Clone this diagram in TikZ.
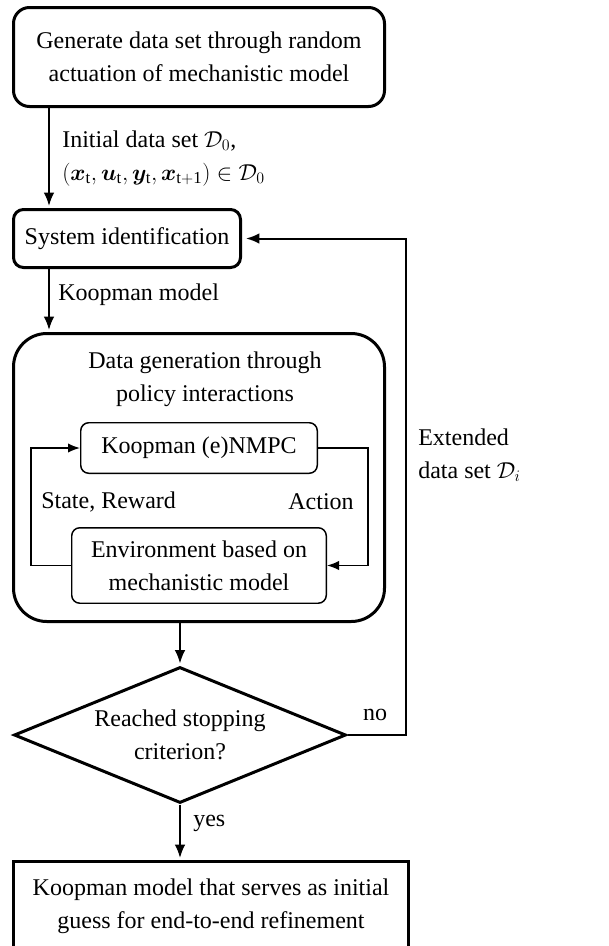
\documentclass[tikz,border=0pt]{standalone}
\usepackage{bm}
\usepackage{fontspec}
\setmainfont{Liberation Serif}
\usetikzlibrary{shapes.geometric,arrows.meta}

\begin{document}
\begin{tikzpicture}[x=0.75pt,y=-0.75pt,
  every node/.style={font=\fontsize{18pt}{24.75pt}\selectfont},
  mainbox/.style={draw, line width=2.25pt, rounded corners=12pt, align=center, inner sep=0pt},
  innerbox/.style={draw, line width=1.1pt, rounded corners=6pt, align=center, inner sep=0pt},
  decision/.style={draw, diamond, aspect=2.4, line width=2.25pt, align=center, inner sep=0pt},
  lbl/.style={inner sep=0pt, align=left},
  flow/.style={line width=1.5pt, -{Latex[length=10pt,width=8pt]}, shorten >=1.5pt},
  loop/.style={line width=1.1pt, -{Latex[length=9pt,width=7pt]}},
]
\useasboundingbox (0,0) rectangle (609,946);

% main column of the flowchart
\node[mainbox, minimum width=278.25pt, minimum height=74.25pt] (gen) at (199,57)
  {Generate data set through random\\actuation of mechanistic model};
\node[mainbox, rounded corners=7.5pt, minimum width=170.25pt, minimum height=43.5pt] (sysid) at (127,238.5)
  {System identification};
\node[mainbox, rounded corners=25pt, minimum width=278.25pt, minimum height=216pt] (datagen) at (199,477.5) {};
\node[align=center, inner sep=0pt] (dgtitle) at (205,379)
  {Data generation through\\policy interactions};
\node[innerbox, minimum width=177.4pt, minimum height=37.9pt] (mpc) at (199,448)
  {Koopman (e)NMPC};
\node[innerbox, minimum width=190.9pt, minimum height=56.6pt] (env) at (199,565.5)
  {Environment based on\\mechanistic model};
\node[decision, minimum width=249pt, minimum height=102pt] (stop) at (180,735)
  {Reached stopping\\criterion?};
\node[draw, line width=2.25pt, align=center, inner sep=0pt, minimum width=296.25pt, minimum height=67.5pt] (final) at (211,906.5)
  {Koopman model that serves as initial\\guess for end-to-end refinement};

% columns used by the connectors
\coordinate (colA) at (49,0);
\coordinate (colL) at (31,0);
\coordinate (colR) at (368,0);
\coordinate (colF) at (406,0);

% forward flow
\draw[flow] (gen.south -| colA) -- (sysid.north -| colA);
\draw[flow] (sysid.south -| colA) -- (datagen.north -| colA);
\draw[flow] (datagen.south -| stop.north) -- (stop.north);
\draw[flow] (stop.south) -- (final.north -| stop.south);

% feedback of the extended data set
\draw[flow, shorten >=3pt] (stop.east) -- (stop.east -| colF) |- (sysid.east);

% interaction loop between controller and environment
\draw[loop] (env.west) -- (env.west -| colL) |- (mpc.west);
\draw[loop] (mpc.east) -- (mpc.east -| colR) |- (env.east);

% labels
\node[lbl, anchor=west] (l0) at (62,158.5)
  {Initial data set $\mathcal{D}_0$,\\$(\bm{x}_{\mathrm{t}},\bm{u}_{\mathrm{t}},\bm{y}_{\mathrm{t}},\bm{x}_{\mathrm{t+1}})\in\mathcal{D}_0$};
\node[lbl, anchor=west] (lkm) at (58,295) {Koopman model};
\node[lbl, anchor=west] (lsr) at (41,502) {State, Reward};
\node[lbl, anchor=east] (lact) at (354,502) {Action};
\node[lbl, anchor=west] (lext) at (418,455) {Extended\\data set $\mathcal{D}_i$};
\node[lbl] (lno) at (375,715) {no};
\node[lbl, anchor=west] (lyes) at (193,823) {yes};
\end{tikzpicture}
\end{document}
